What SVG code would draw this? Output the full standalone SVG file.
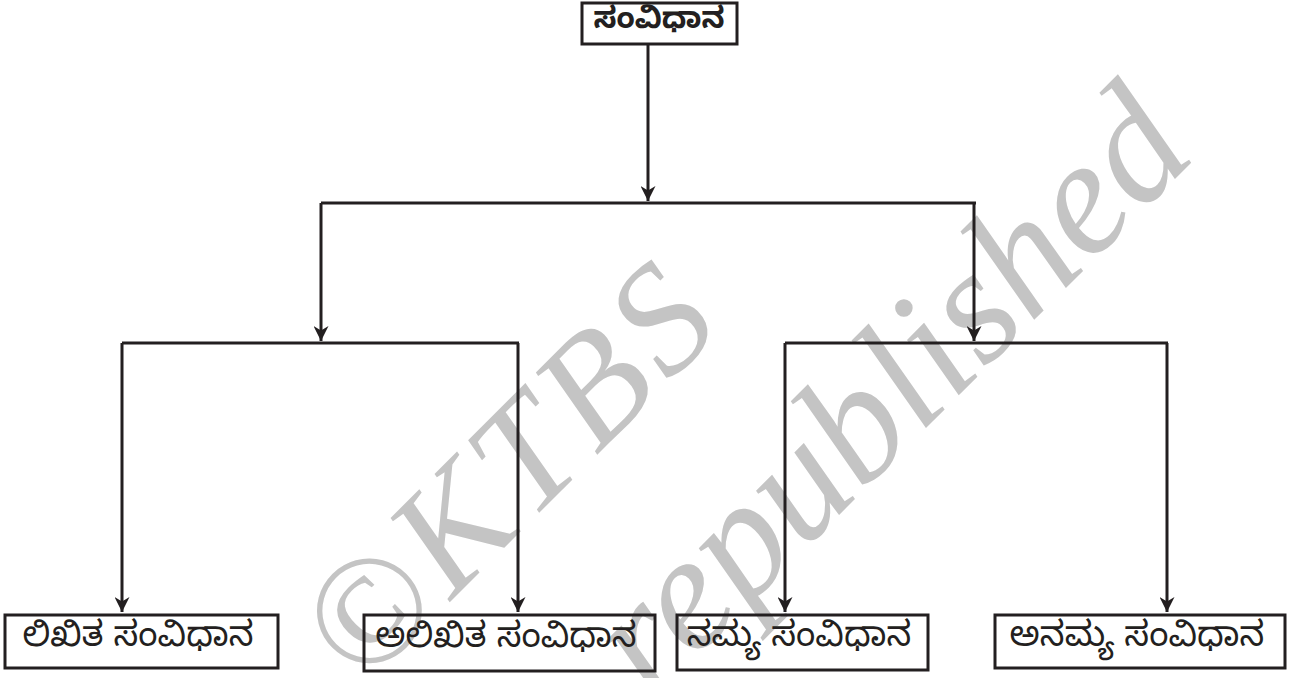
<svg xmlns="http://www.w3.org/2000/svg" width="1299" height="678" viewBox="0 0 1299 678">
<style>
.box{fill:none;stroke:#231f20;stroke-width:3}
.lbl{font-family:"Noto Sans Kannada","Noto Serif Kannada","Lohit Kannada",sans-serif;font-size:35px;fill:#231f20;text-anchor:middle;dominant-baseline:central}
.top{font-weight:bold;font-size:30px}
.ln{fill:none;stroke:#231f20;stroke-width:3}
.wm{font-family:"Liberation Serif",serif;font-style:italic;fill:#c4c4c4}
</style>
<defs>
<marker id="ah" viewBox="0 0 10 10" refX="10" refY="5" markerWidth="5" markerHeight="5" markerUnits="strokeWidth" orient="auto">
<path d="M0,0 L10,5 L0,10 L3,5 Z" fill="#231f20"/>
</marker>
</defs>
<g id="watermark">
<text class="wm" font-size="155" letter-spacing="8" transform="translate(362,690) rotate(-45)">©KTBS</text>
<text class="wm" font-size="165" transform="translate(652,702) rotate(-45)">republished</text>
</g>
<g id="connectors">
<path class="ln" d="M648,44 V201" marker-end="url(#ah)"/>
<path class="ln" d="M321,203 H976"/>
<path class="ln" d="M321,203 V341" marker-end="url(#ah)"/>
<path class="ln" d="M974,203 V341" marker-end="url(#ah)"/>
<path class="ln" d="M122,343 H519"/>
<path class="ln" d="M785,343 H1168"/>
<path class="ln" d="M122,343 V612" marker-end="url(#ah)"/>
<path class="ln" d="M518,343 V612" marker-end="url(#ah)"/>
<path class="ln" d="M785,343 V612" marker-end="url(#ah)"/>
<path class="ln" d="M1167,343 V612" marker-end="url(#ah)"/>
</g>
<g id="n-root">
<rect class="box" x="582" y="3" width="155" height="41"/>
<text class="lbl top" x="659" y="24">ಸಂವಿಧಾನ</text>
</g>
<g id="n-likhita">
<rect class="box" x="5" y="615" width="273" height="53"/>
<text class="lbl" x="138" y="641">ಲಿಖಿತ ಸಂವಿಧಾನ</text>
</g>
<g id="n-alikhita">
<rect class="box" x="364" y="615" width="291" height="56"/>
<text class="lbl" x="506" y="642">ಅಲಿಖಿತ ಸಂವಿಧಾನ</text>
</g>
<g id="n-namya">
<rect class="box" x="677" y="615" width="251" height="55"/>
<text class="lbl" x="799" y="641">ನಮ್ಯ ಸಂವಿಧಾನ</text>
</g>
<g id="n-anamya">
<rect class="box" x="995" y="615" width="290" height="53"/>
<text class="lbl" x="1137" y="641">ಅನಮ್ಯ ಸಂವಿಧಾನ</text>
</g>
</svg>
